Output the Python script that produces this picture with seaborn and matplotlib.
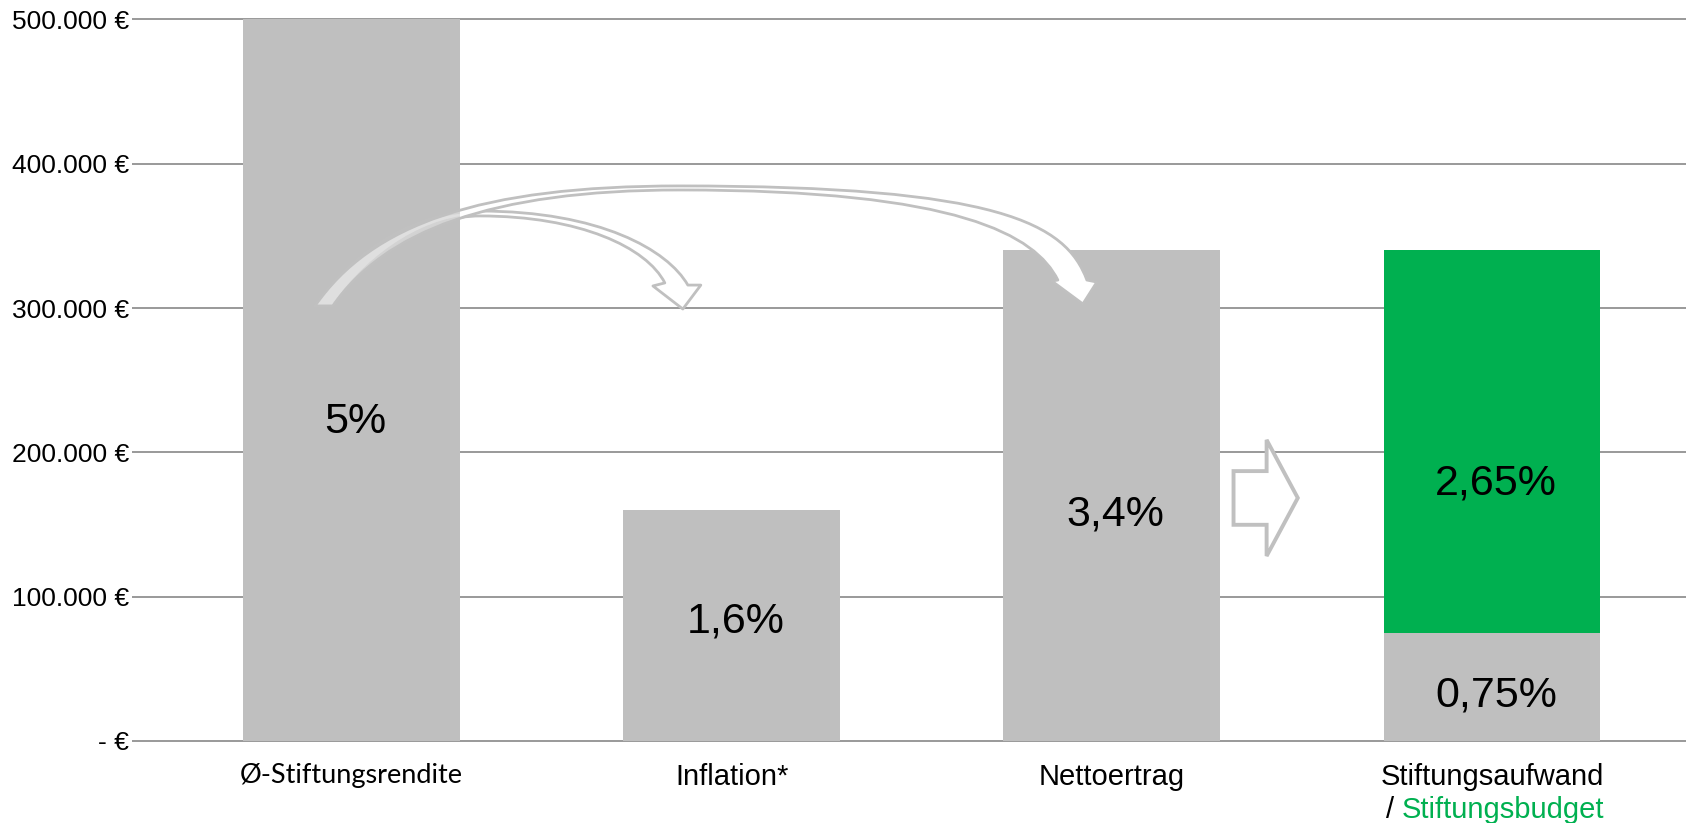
import numpy as np
import matplotlib
matplotlib.use("Agg")
import matplotlib.pyplot as plt
from matplotlib.path import Path
from matplotlib.patches import PathPatch, FancyArrow, Rectangle
import seaborn as sns

# ================= DATA =================
categories = ["Ø-Stiftungsrendite", "Inflation*", "Nettoertrag", "Stiftungsaufwand"]
base_values = [500000, 160000, 340000, 75000]      # grey part
budget_values = [0, 0, 0, 265000]                  # green part (Stiftungsbudget)
rate_labels = ["5%", "1,6%", "3,4%", "2,65%", "0,75%"]
rate_x = [0, 1, 2, 3, 3]
rate_y = [221000, 82700, 157200, 178100, 31300]
ytick_values = [0, 100000, 200000, 300000, 400000, 500000]
ytick_labels = ["- €", "100.000 €", "200.000 €", "300.000 €", "400.000 €", "500.000 €"]

GREY = "#bfbfbf"
GREEN = "#00b050"
ARROW = "#c0c0c0"
BAR_W = 0.57

totals = [b + g for b, g in zip(base_values, budget_values)]

# ================= PLOT =================
sns.set_style("white")
plt.rcParams["font.family"] = ["Liberation Sans", "DejaVu Sans"]

fig = plt.figure(figsize=(16.86, 8.23), dpi=100)
ax = fig.add_axes([0.0783, 0.0909, 0.9217, 0.8943])

# totals first (green shows on the last bar), grey base on top
sns.barplot(x=categories, y=totals, hue=categories, order=categories,
            palette=[GREY, GREY, GREY, GREEN], legend=False,
            width=BAR_W, saturation=1, linewidth=0, ax=ax, zorder=2)
sns.barplot(x=categories, y=base_values, order=categories, color=GREY,
            width=BAR_W, saturation=1, linewidth=0, ax=ax, zorder=2)

for lbl, x, y in zip(rate_labels, rate_x, rate_y):
    ax.text(x + 0.01, y, lbl, ha="center", va="center", fontsize=31,
            color="black", zorder=6)

# axes styling
ax.set_xlim(-0.577, 3.51)
ax.set_ylim(-5000, 505000)
ax.set_yticks(ytick_values)
ax.set_yticklabels(ytick_labels, fontsize=19, color="black")
ax.set_xticks(range(len(categories)))
ax.set_xticklabels(categories, fontsize=21, color="black")
ax.get_xticklabels()[0].set_fontfamily(["Lato", "DejaVu Sans"])
ax.get_xticklabels()[0].set_fontsize(19.5)
ax.tick_params(axis="y", length=0, pad=2)
ax.tick_params(axis="x", length=0, pad=11)
ax.set_xlabel("")
ax.set_ylabel("")
for s in ax.spines.values():
    s.set_visible(False)
ax.yaxis.grid(True, color="#878787", lw=1.2)
ax.set_axisbelow(True)

# second line of last category label
green_txt = ax.annotate("Stiftungsbudget", xy=(3, 0), xycoords=("data", "axes fraction"),
                        xytext=(8, -50), textcoords="offset points",
                        ha="center", va="baseline", fontsize=21, color=GREEN)
ax.annotate("/ ", xy=(0, 0), xycoords=(green_txt, "axes fraction"),
            xytext=(0, -50), textcoords="offset points",
            ha="right", va="baseline", fontsize=21, color="black")

# ================= CURVED ARROWS =================
# each arrow: outer edge (two cubic segments), head (wing, tip, wing), inner edge back
arrows = [
    dict(outer=[(-0.0963, 301400), (0.0142, 343000), (0.1799, 367200), (0.3377, 367200),
                (0.6533, 367200), (0.8322, 340200), (0.8848, 315900)],
         head=[(0.9190, 315900), (0.8717, 299300), (0.7930, 315300)],
         inner=[(0.8243, 317400), (0.7769, 342000), (0.6007, 363800), (0.3377, 363800),
                (0.2062, 363800), (0.0563, 340900), (-0.0489, 301400)]),
    dict(outer=[(-0.0963, 301400), (0.0537, 358200), (0.3377, 384600), (0.8638, 384600),
                (1.7054, 384600), (1.8790, 358500), (1.9343, 319400)],
         head=[(1.9606, 318000), (1.9238, 302800), (1.8422, 318700)],
         inner=[(1.8580, 319400), (1.7988, 350300), (1.6002, 381800), (0.8638, 381800),
                (0.3640, 381800), (0.0852, 352700), (-0.0489, 301400)]),
]


def arrow_path(a):
    verts = list(a["outer"]) + list(a["head"]) + list(a["inner"]) + [a["outer"][0]]
    codes = ([Path.MOVETO] + [Path.CURVE4] * 6 + [Path.LINETO] * 4
             + [Path.CURVE4] * 6 + [Path.CLOSEPOLY])
    return Path(verts, codes)


bar1_right = 0 + BAR_W / 2
right_of_bar1 = Rectangle((bar1_right, 0), 5, 600000, transform=ax.transData)
for z, a in enumerate(arrows):
    p = arrow_path(a)
    # translucent fill: lighter band over the first bar
    ax.add_patch(PathPatch(p, facecolor=(1, 1, 1, 0.3), edgecolor="none", zorder=4 + z))
    solid = PathPatch(p, facecolor="white", edgecolor="none", zorder=4 + z)
    ax.add_patch(solid)
    solid.set_clip_path(right_of_bar1)
    ax.add_patch(PathPatch(p, facecolor="none", edgecolor=ARROW, lw=2.0,
                           joinstyle="round", zorder=4 + z))

# block arrow between Nettoertrag and Stiftungsaufwand
block = FancyArrow(2.320, 168400, 0.169, 0, width=37200, head_width=80500,
                   head_length=0.082, length_includes_head=True,
                   facecolor="white", edgecolor=ARROW, lw=2.8, zorder=4)
ax.add_patch(block)

fig.savefig("out.png", dpi=100)
